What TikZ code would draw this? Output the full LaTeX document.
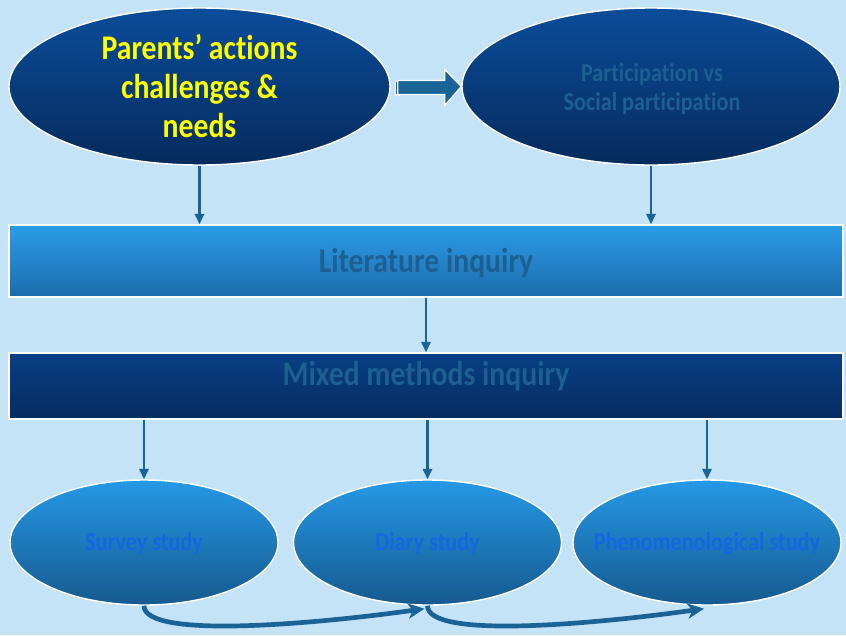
\documentclass[tikz,border=0pt]{standalone}
\usepackage{fontspec}
\newfontfamily\cf{Carlito}[FakeStretch=0.86,Ligatures=NoCommon]
\usetikzlibrary{shapes.geometric,arrows.meta,calc}
\definecolor{bg}{HTML}{C5E3F7}
\definecolor{darktop}{HTML}{0B4C9A}
\definecolor{darkbot}{HTML}{062B5C}
\definecolor{littop}{HTML}{2B9CE8}
\definecolor{litbot}{HTML}{1C6CAB}
\definecolor{mixtop}{HTML}{083F84}
\definecolor{mixbot}{HTML}{052D60}
\definecolor{smtop}{HTML}{2598E6}
\definecolor{smbot}{HTML}{165A8F}
\definecolor{teal}{HTML}{1E5F92}
\definecolor{bluetxt}{HTML}{1367E2}
\definecolor{arr}{HTML}{1A6397}
\definecolor{yel}{HTML}{FFFF00}
\begin{document}
\begin{tikzpicture}[x=0.03cm,y=-0.03cm,
  bigell/.style={ellipse, draw=white, line width=1.2pt, top color=darktop, bottom color=darkbot, minimum height=4.71cm},
  smell/.style={ellipse, draw=white, line width=1.2pt, top color=smtop, bottom color=smbot, minimum width=8.04cm, minimum height=3.75cm},
  band/.style={rectangle, draw=white, line width=1.2pt, minimum width=25.02cm, inner sep=0pt},
  txt/.style={font=\cf\bfseries, align=center, inner sep=0pt},
  down/.style={draw=arr, line width=1.8pt, -{Triangle[length=9pt,width=8pt]}},
  curv/.style={draw=arr, line width=4pt, -{Stealth[length=14pt,width=13pt,inset=4pt]}}
]
\useasboundingbox[fill=bg] (0,0) rectangle (846,635);

% top ellipses
\node[bigell, minimum width=11.43cm] (e1) at (199.5,86.5) {};
\node[bigell, minimum width=11.34cm] (e2) at (651,86.5) {};
\node[txt, text=yel, font=\cf\bfseries\fontsize{29.5}{33}\selectfont] (e1t) at (199.5,86) {Parents’ actions\\challenges \&\\needs};
\node[txt, text=teal, font=\cf\bfseries\fontsize{22}{25}\selectfont] (e2t) at (652,89) {Participation vs\\Social participation};

% block arrow
\fill[white] ($(e1.east)+(4,-5)$) rectangle ($(e1.east)+(9,9)$);
\draw[white, line width=1pt, fill=arr]
  ($(e1.east)+(7,-6)$) -- ($(e1.east)+(54,-6)$) -- ($(e1.east)+(54,-17)$)
  -- (e2.west) -- ($(e1.east)+(54,19)$) -- ($(e1.east)+(54,8)$)
  -- ($(e1.east)+(7,8)$) -- cycle;
\fill[arr] ($(e1.east)+(5,-5)$) rectangle ($(e1.east)+(6.5,7)$);

% bands
\node[band, top color=littop, bottom color=litbot, minimum height=2.16cm] (lit) at (426,261) {};
\node[txt, text=teal, anchor=base, font=\cf\bfseries\fontsize{29.5}{32}\selectfont] (litt) at (426,272) {Literature inquiry};
\node[band, top color=mixtop, bottom color=mixbot, minimum height=1.98cm] (mix) at (426,386) {};
\node[txt, text=teal, anchor=base, font=\cf\bfseries\fontsize{29.5}{32}\selectfont] (mixt) at (426,385) {Mixed methods inquiry};

% bottom ellipses
\node[smell] (s1) at (144,542.5) {};
\node[smell] (s2) at (427.5,542.5) {};
\node[smell] (s3) at (707,542.5) {};
\node[txt, text=bluetxt, anchor=base, font=\cf\bfseries\fontsize{22}{24}\selectfont] (s1t) at (144,550) {Survey study};
\node[txt, text=bluetxt, anchor=base, font=\cf\bfseries\fontsize{22}{24}\selectfont] (s2t) at (427.5,550) {Diary study};
\node[txt, text=bluetxt, anchor=base, font=\cf\bfseries\fontsize{22}{24}\selectfont] (s3t) at (707,550) {Phenomenological study};

% down arrows
\draw[down] (e1.south) -- (e1.south |- lit.north);
\draw[down] (e2.south) -- (e2.south |- lit.north);
\draw[down] (lit.south) -- (mix.north);
\draw[down] (mix.south -| s1.north) -- (s1.north);
\draw[down] (mix.south -| s2.north) -- (s2.north);
\draw[down] (mix.south -| s3.north) -- (s3.north);

% curved arrows
\draw[curv] (s1.south) .. controls ($(s1.south)+(0,34)$) and ($(s2.south)+(-110,18)$) .. ($(s2.south)+(-3,3)$);
\draw[curv] (s2.south) .. controls ($(s2.south)+(0,34)$) and ($(s3.south)+(-110,18)$) .. ($(s3.south)+(-3,3)$);
\end{tikzpicture}
\end{document}
